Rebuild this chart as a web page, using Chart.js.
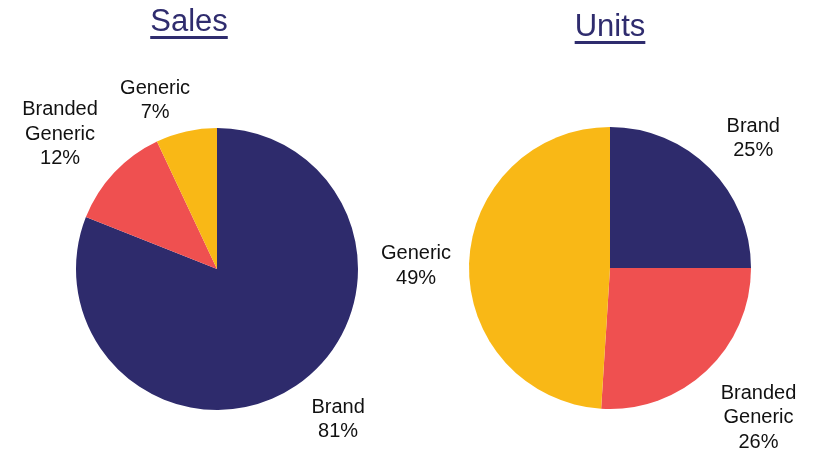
<!DOCTYPE html>
<html>
<head>
<meta charset="utf-8">
<script src="https://cdn.jsdelivr.net/npm/chart.js@4/dist/chart.umd.min.js"></script>
<style>
  body { margin: 0; background: #fff; }
  #wrap { position: relative; width: 815px; height: 452px; overflow: hidden; }
  canvas { position: absolute; left: 0; top: 0; }
  .title {
    position: absolute; width: 120px; text-align: center;
    font-family: "Liberation Sans", Arial, sans-serif; font-size: 31px; line-height: 31px;
    color: #2f2c6e; text-decoration: underline; text-decoration-thickness: 3px;
    text-underline-offset: 5px;
  }
</style>
</head>
<body>
<div id="wrap">
  <canvas id="sales" width="815" height="452"></canvas>
  <canvas id="units" width="815" height="452"></canvas>
  <div class="title" style="left:129px; top:5px;">Sales</div>
  <div class="title" style="left:550px; top:10px;">Units</div>
</div>
<script>
// segment names and percentages
var categories = ['Brand', 'Branded Generic', 'Generic'];
var salesShare = [81, 12, 7];
var unitsShare = [25, 26, 49];
var sliceColors = ['#2e2b6c', '#ef5050', '#f9b816'];

// draws "Name / NN%" outside each slice, along the slice's middle angle
var outsideLabels = {
    id: 'outsideLabels',
    afterDatasetsDraw: function (chart, args, opts) {
        var ctx = chart.ctx;
        var meta = chart.getDatasetMeta(0);
        var values = chart.data.datasets[0].data;
        ctx.save();
        ctx.font = '20px "Liberation Sans", Arial, sans-serif';
        ctx.fillStyle = '#111';
        ctx.textAlign = 'center';
        ctx.textBaseline = 'alphabetic';
        meta.data.forEach(function (arc, i) {
            var p = arc.getProps(['x', 'y', 'startAngle', 'endAngle', 'outerRadius'], true);
            var ang = (p.startAngle + p.endAngle) / 2 + opts.shift[i] * Math.PI / 180;
            var d = p.outerRadius + opts.dist[i];
            var cx = p.x + Math.cos(ang) * d;
            var cy = p.y + Math.sin(ang) * d;
            var lines = chart.data.labels[i].split(' ').concat([values[i] + '%']);
            var lh = 24.5;
            lines.forEach(function (t, k) {
                ctx.fillText(t, cx, cy - (lines.length - 1) * lh / 2 + k * lh + 7);
            });
        });
        ctx.restore();
    }
};

function createPie(id, values, padding, dist, shift) {
    var ctx = document.getElementById(id).getContext('2d');
    return new Chart(ctx, {
        type: 'pie',
        data: {
            labels: categories,
            datasets: [{
                data: values,
                backgroundColor: sliceColors,
                borderWidth: 0
            }]
        },
        options: {
            responsive: false,
            animation: false,
            devicePixelRatio: 1,
            layout: { padding: padding },
            plugins: {
                legend: { display: false },
                tooltip: { enabled: false },
                outsideLabels: { dist: dist, shift: shift }
            }
        },
        plugins: [outsideLabels]
    });
}

createPie('sales', salesShare, { left: 76, top: 128, right: 457, bottom: 42 }, [51, 67, 40], [-4.9, -2.2, -7.4]);
createPie('units', unitsShare, { left: 469, top: 127, right: 64, bottom: 43 }, [53, 69, 53], [2.6, -1.8, -0.8]);
</script>
</body>
</html>
